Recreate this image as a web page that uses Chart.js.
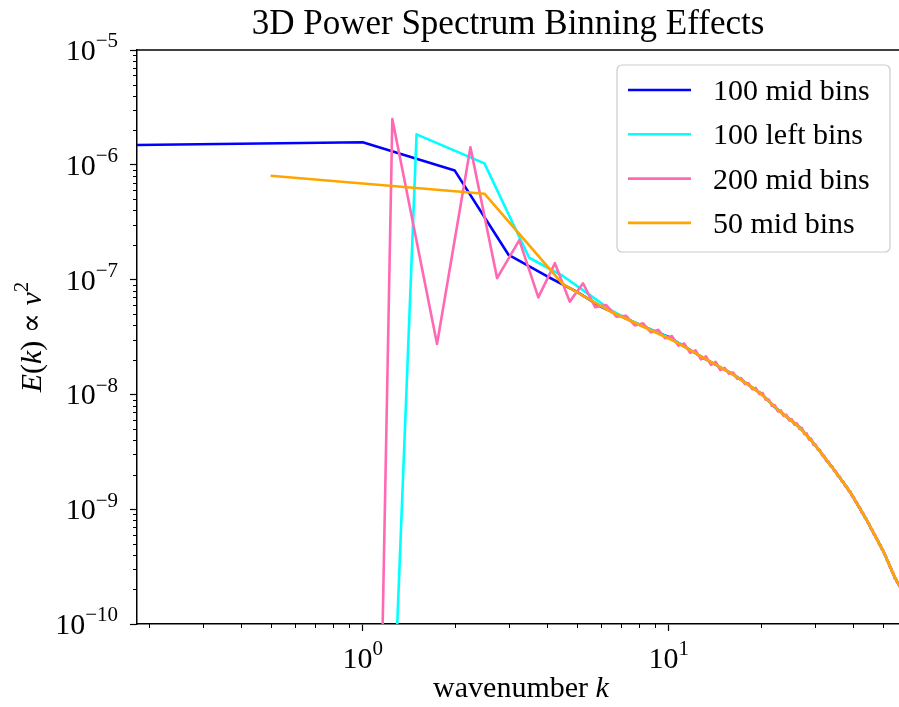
<!DOCTYPE html>
<html>
<head>
<meta charset="utf-8">
<title>3D Power Spectrum Binning Effects</title>
<script src="https://cdn.jsdelivr.net/npm/chart.js@4.4.1/dist/chart.umd.min.js"></script>
<style>
  html, body { margin: 0; padding: 0; background: #fff; }
  canvas { display: block; }
</style>
</head>
<body>
<canvas id="spectrumChart" width="899" height="707"></canvas>
<script>
// wavenumber bins (k) and spectra
const kMid100 = [0.1, 1, 2, 3, 4, 5, 6, 7, 8, 9, 10, 11, 12, 13, 14, 15, 16, 17, 18, 19, 20,
  21, 22, 23, 24, 25, 26, 27, 28, 29, 30, 31, 32, 33, 34, 35, 36, 37, 38, 39, 40,
  41, 42, 43, 44, 45, 46, 47, 48, 49, 50, 51, 52, 53, 54, 55, 56, 57, 58];
const eMid100 = [1.46e-6, 1.57e-6, 8.9e-7, 1.64e-7, 1.07e-7, 7.85e-8, 5.81e-8, 4.78e-8, 4.06e-8, 3.56e-8, 3.16e-8,
  2.71e-8, 2.36e-8, 2.07e-8, 1.86e-8, 1.68e-8, 1.53e-8, 1.38e-8, 1.24e-8, 1.12e-8, 1.02e-8,
  9.02e-9, 7.96e-9, 7.18e-9, 6.56e-9, 6.0e-9, 5.52e-9, 5.07e-9, 4.54e-9, 4.07e-9, 3.65e-9,
  3.28e-9, 2.93e-9, 2.62e-9, 2.38e-9, 2.14e-9, 1.93e-9, 1.75e-9, 1.58e-9, 1.43e-9, 1.29e-9,
  1.15e-9, 1.035e-9, 9.27e-10, 8.38e-10, 7.52e-10, 6.70e-10, 6.04e-10, 5.45e-10, 4.90e-10, 4.43e-10,
  3.98e-10, 3.52e-10, 3.13e-10, 2.79e-10, 2.50e-10, 2.30e-10, 2.11e-10, 1.95e-10];

const kLeft100 = [0.5, 1.5, 2.5, 3.5, 4.5, 5.5, 6.5, 7.5, 8.5, 9.5, 10.5, 11.5, 12.5, 13.5, 14.5,
  15.5, 16.5, 17.5, 18.5, 19.5, 20.5, 21.5, 22.5, 23.5, 24.5, 25.5, 26.5, 27.5, 28.5, 29.5,
  30.5, 31.5, 32.5, 33.5, 34.5, 35.5, 36.5, 37.5, 38.5, 39.5, 40.5, 41.5, 42.5, 43.5, 44.5,
  45.5, 46.5, 47.5, 48.5, 49.5, 50.5, 51.5, 52.5, 53.5, 54.5, 55.5, 56.5, 57.5];
const eLeft100 = [1e-38, 1.84e-6, 1.03e-6, 1.55e-7, 1.08e-7, 7.4e-8, 5.4e-8, 4.40e-8, 3.80e-8, 3.35e-8,
  2.92e-8, 2.52e-8, 2.21e-8, 1.96e-8, 1.77e-8, 1.60e-8, 1.45e-8, 1.31e-8, 1.18e-8, 1.07e-8,
  9.6e-9, 8.47e-9, 7.55e-9, 6.86e-9, 6.27e-9, 5.75e-9, 5.28e-9, 4.80e-9, 4.30e-9, 3.85e-9,
  3.46e-9, 3.10e-9, 2.77e-9, 2.49e-9, 2.25e-9, 2.03e-9, 1.84e-9, 1.66e-9, 1.51e-9, 1.36e-9,
  1.22e-9, 1.09e-9, 9.8e-10, 8.81e-10, 7.94e-10, 7.10e-10, 6.37e-10, 5.74e-10, 5.16e-10, 4.66e-10,
  4.20e-10, 3.74e-10, 3.33e-10, 2.95e-10, 2.64e-10, 2.40e-10, 2.21e-10, 2.04e-10];

const kMid200 = [0.75, 1.25, 1.75, 2.25, 2.75, 3.25, 3.75, 4.25, 4.75, 5.25, 5.75, 6.25, 6.75,
  7.25, 7.75, 8.25, 8.75, 9.25, 9.75, 10.25, 10.75, 11.25, 11.75, 12.25, 12.75, 13.25, 13.75,
  14.25, 14.75, 15.25, 15.75, 16.25, 16.75, 17.25, 17.75, 18.25, 18.75, 19.25, 19.75, 20.25, 20.75,
  21.25, 21.75, 22.25, 22.75, 23.25, 23.75, 24.25, 24.75, 25.25, 25.75, 26.25, 26.75, 27.25, 27.75,
  28.25, 28.75, 29.25, 29.75, 30.25, 30.75, 31.25, 31.75, 32.25, 32.75, 33.25, 33.75, 34.25, 34.75,
  35.25, 35.75, 36.25, 36.75, 37.25, 37.75, 38.25, 38.75, 39.25, 39.75, 40.25, 40.75, 41.25, 41.75,
  42.25, 42.75, 43.25, 43.75, 44.25, 44.75, 45.25, 45.75, 46.25, 46.75, 47.25, 47.75, 48.25, 48.75,
  49.25, 49.75, 50.25, 50.75, 51.25, 51.75, 52.25, 52.75, 53.25, 53.75, 54.25, 54.75, 55.25, 55.75,
  56.25, 56.75, 57.25, 57.75, 58.25];
const eMid200 = [3e-37, 2.5e-6, 2.75e-8, 1.42e-6, 1.03e-7, 2.21e-7, 7.0e-8, 1.39e-7, 6.43e-8, 9.29e-8, 5.74e-8, 6.0e-8, 4.75e-8,
  4.85e-8, 3.99e-8, 4.16e-8, 3.47e-8, 3.66e-8, 3.08e-8, 3.22e-8, 2.66e-8, 2.77e-8, 2.30e-8, 2.42e-8, 2.02e-8, 2.14e-8, 1.81e-8,
  1.92e-8, 1.63e-8, 1.70e-8, 1.51e-8, 1.55e-8, 1.37e-8, 1.39e-8, 1.23e-8, 1.25e-8, 1.11e-8, 1.14e-8, 1.01e-8, 1.03e-8, 9.0e-9,
  9.04e-9, 7.93e-9, 8.04e-9, 7.11e-9, 7.26e-9, 6.49e-9, 6.64e-9, 5.93e-9, 6.08e-9, 5.45e-9, 5.60e-9, 5.0e-9, 5.11e-9, 4.51e-9,
  4.57e-9, 4.05e-9, 4.10e-9, 3.62e-9, 3.63e-9, 3.29e-9, 3.27e-9, 2.94e-9, 2.92e-9, 2.63e-9, 2.61e-9, 2.38e-9, 2.37e-9, 2.14e-9,
  2.13e-9, 1.94e-9, 1.93e-9, 1.75e-9, 1.74e-9, 1.58e-9, 1.58e-9, 1.44e-9, 1.43e-9, 1.29e-9, 1.28e-9, 1.16e-9, 1.15e-9, 1.04e-9,
  1.03e-9, 9.31e-10, 9.25e-10, 8.39e-10, 8.34e-10, 7.55e-10, 7.46e-10, 6.73e-10, 6.68e-10, 6.05e-10, 6.03e-10, 5.46e-10, 5.42e-10, 4.91e-10,
  4.89e-10, 4.44e-10, 4.41e-10, 3.99e-10, 3.95e-10, 3.55e-10, 3.50e-10, 3.16e-10, 3.11e-10, 2.81e-10, 2.77e-10, 2.51e-10, 2.51e-10, 2.30e-10,
  2.31e-10, 2.11e-10, 2.12e-10, 1.95e-10, 1.90e-10];

const kMid50 = [0.5, 2.5, 4.5, 6.5, 8.5, 10.5, 12.5, 14.5, 16.5, 18.5, 20.5, 22.5, 24.5, 26.5, 28.5,
  30.5, 32.5, 34.5, 36.5, 38.5, 40.5, 42.5, 44.5, 46.5, 48.5, 50.5, 52.5, 54.5, 56.5, 58.5];
const eMid50 = [8.04e-7, 5.6e-7, 9.16e-8, 5.22e-8, 3.75e-8, 2.88e-8, 2.21e-8, 1.77e-8, 1.45e-8, 1.18e-8,
  9.6e-9, 7.55e-9, 6.27e-9, 5.28e-9, 4.30e-9, 3.46e-9, 2.77e-9, 2.25e-9, 1.84e-9, 1.51e-9,
  1.22e-9, 9.8e-10, 7.94e-10, 6.37e-10, 5.16e-10, 4.20e-10, 3.33e-10, 2.64e-10, 2.21e-10, 1.88e-10];

const seriesLabels = ['100 mid bins', '100 left bins', '200 mid bins', '50 mid bins'];
const seriesColors = ['#0000ff', '#00ffff', '#ff69b4', '#ffa500'];

const xMajorTicks = [1, 10];
const yMajorTicks = [1e-10, 1e-9, 1e-8, 1e-7, 1e-6, 1e-5];

const SERIF = '"Liberation Serif", "DejaVu Serif", serif';
const FONT_SIZE = 30;
const LINE_W = 2.6;

// minor tick positions (2..9 of each decade)
const xMinorTicks = [];
const yMinorTicks = [];
[0.1, 1, 10].forEach(d => { for (let m = 2; m <= 9; m++) xMinorTicks.push(m * d); });
[1e-10, 1e-9, 1e-8, 1e-7, 1e-6].forEach(d => { for (let m = 2; m <= 9; m++) yMinorTicks.push(m * d); });

function toPoints(ks, es) {
  return ks.map((k, i) => ({ x: k, y: es[i] }));
}

// draws text made of pieces, some italic, some superscript
function drawParts(ctx, parts, x, y, align, size) {
  const fonts = parts.map(p => (p.it ? 'italic ' : '') + (p.sup ? Math.round(size * 0.7) : size) + 'px ' + SERIF);
  const widths = parts.map((p, i) => { ctx.font = fonts[i]; return ctx.measureText(p.t).width; });
  const total = widths.reduce((a, b) => a + b, 0);
  let cx = align === 'center' ? x - total / 2 : (align === 'right' ? x - total : x);
  ctx.textAlign = 'left';
  ctx.textBaseline = 'alphabetic';
  parts.forEach((p, i) => {
    ctx.font = fonts[i];
    ctx.fillText(p.t, cx, p.sup ? y - size * 0.42 : y);
    cx += widths[i];
  });
}

const decorPlugin = {
  id: 'decor',
  afterDraw(chart) {
    const ctx = chart.ctx;
    const a = chart.chartArea;
    const xs = chart.scales.x;
    const ys = chart.scales.y;
    ctx.save();

    // top spine
    ctx.strokeStyle = '#000';
    ctx.lineWidth = 1.5;
    ctx.beginPath();
    ctx.moveTo(a.left - 0.75, a.top);
    ctx.lineTo(a.right, a.top);
    ctx.stroke();

    // minor ticks
    ctx.lineWidth = 1;
    xMinorTicks.forEach(v => {
      const px = Math.round(xs.getPixelForValue(v)) + 0.5;
      if (px < a.left || px > a.right) return;
      ctx.beginPath();
      ctx.moveTo(px, a.bottom);
      ctx.lineTo(px, a.bottom + 4);
      ctx.stroke();
    });
    yMinorTicks.forEach(v => {
      const py = Math.round(ys.getPixelForValue(v)) + 0.5;
      ctx.beginPath();
      ctx.moveTo(a.left, py);
      ctx.lineTo(a.left - 4, py);
      ctx.stroke();
    });

    // tick labels
    ctx.fillStyle = '#000';
    xMajorTicks.forEach(v => {
      const px = xs.getPixelForValue(v);
      drawParts(ctx, [{ t: '10' }, { t: String(Math.round(Math.log10(v))), sup: true }], px, a.bottom + 44, 'center', FONT_SIZE);
    });
    yMajorTicks.forEach(v => {
      const py = ys.getPixelForValue(v);
      drawParts(ctx, [{ t: '10' }, { t: '\u2212' + String(-Math.round(Math.log10(v))), sup: true }], a.left - 19, py + 10, 'right', FONT_SIZE);
    });

    // title
    ctx.font = '35px ' + SERIF;
    ctx.textAlign = 'center';
    ctx.textBaseline = 'alphabetic';
    ctx.fillText('3D Power Spectrum Binning Effects', 508, 34);

    // x axis title
    drawParts(ctx, [{ t: 'wavenumber ' }, { t: 'k', it: true }], 521, 697, 'center', FONT_SIZE);

    // y axis title (rotated)
    ctx.save();
    ctx.translate(41, (a.top + a.bottom) / 2);
    ctx.rotate(-Math.PI / 2);
    drawParts(ctx, [
      { t: 'E', it: true }, { t: '(' }, { t: 'k', it: true }, { t: ')' },
      { t: ' \u221D ' }, { t: 'v', it: true }, { t: '2', sup: true }
    ], 0, 0, 'center', FONT_SIZE);
    ctx.restore();

    // legend
    const bx = 617, by = 65, bw = 273, bh = 187;
    ctx.fillStyle = 'rgba(255,255,255,0.8)';
    ctx.strokeStyle = '#cccccc';
    ctx.lineWidth = 1.2;
    ctx.beginPath();
    ctx.roundRect(bx, by, bw, bh, 5);
    ctx.fill();
    ctx.stroke();
    chart.data.datasets.forEach((ds, i) => {
      const ry = 90 + i * 44.3;
      ctx.strokeStyle = ds.borderColor;
      ctx.lineWidth = LINE_W;
      ctx.beginPath();
      ctx.moveTo(628, ry);
      ctx.lineTo(691, ry);
      ctx.stroke();
      ctx.fillStyle = '#000';
      ctx.font = FONT_SIZE + 'px ' + SERIF;
      ctx.textAlign = 'left';
      ctx.fillText(ds.label, 713, ry + 10);
    });

    ctx.restore();
  }
};

const lineStyle = { pointRadius: 0, borderWidth: LINE_W, tension: 0, fill: false, borderJoinStyle: 'round' };

const ctx = document.getElementById('spectrumChart').getContext('2d');
const spectrumChart = new Chart(ctx, {
  type: 'line',
  data: {
    datasets: [
      Object.assign({ label: seriesLabels[0], data: toPoints(kMid100, eMid100), borderColor: seriesColors[0], order: 4 }, lineStyle),
      Object.assign({ label: seriesLabels[1], data: toPoints(kLeft100, eLeft100), borderColor: seriesColors[1], order: 3 }, lineStyle),
      Object.assign({ label: seriesLabels[2], data: toPoints(kMid200, eMid200), borderColor: seriesColors[2], order: 2 }, lineStyle),
      Object.assign({ label: seriesLabels[3], data: toPoints(kMid50, eMid50), borderColor: seriesColors[3], order: 1 }, lineStyle)
    ]
  },
  options: {
    responsive: false,
    animation: false,
    devicePixelRatio: 1,
    layout: { padding: { top: 50, right: 0, bottom: 0, left: 0 } },
    plugins: {
      legend: { display: false },
      title: { display: false },
      tooltip: { enabled: false }
    },
    scales: {
      x: {
        type: 'logarithmic',
        position: 'bottom',
        min: 0.183,
        max: 56.6,
        afterBuildTicks: s => { s.ticks = xMajorTicks.map(v => ({ value: v })); },
        afterFit: s => { s.height = 83; },
        ticks: { display: false },
        grid: { drawOnChartArea: false, drawTicks: true, tickLength: 7, tickWidth: 1.2, tickColor: '#000' },
        border: { display: true, color: '#000', width: 1.5 }
      },
      y: {
        type: 'logarithmic',
        position: 'left',
        min: 1e-10,
        max: 1e-5,
        afterBuildTicks: s => { s.ticks = yMajorTicks.map(v => ({ value: v })); },
        afterFit: s => { s.width = 137; },
        ticks: { display: false },
        grid: { drawOnChartArea: false, drawTicks: true, tickLength: 7, tickWidth: 1.2, tickColor: '#000' },
        border: { display: true, color: '#000', width: 1.5 }
      }
    }
  },
  plugins: [decorPlugin]
});
</script>
</body>
</html>
